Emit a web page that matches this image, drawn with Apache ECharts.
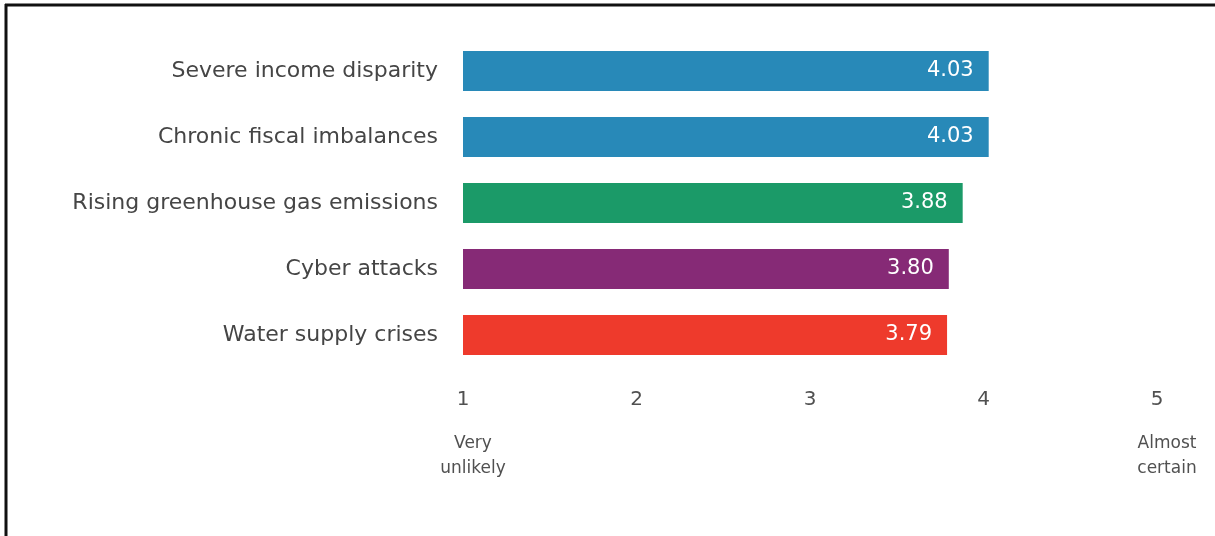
<!DOCTYPE html>
<html>
<head>
<meta charset="utf-8">
<script src="https://cdn.jsdelivr.net/npm/echarts@6/dist/echarts.min.js"></script>
<style>
  html, body { margin: 0; padding: 0; background: #ffffff; }
  #chart { width: 1215px; height: 536px; }
</style>
</head>
<body>
<div id="chart"></div>
<script>
const categories = [
  'Severe income disparity',
  'Chronic fiscal imbalances',
  'Rising greenhouse gas emissions',
  'Cyber attacks',
  'Water supply crises'
];
const values = [4.03, 4.03, 3.88, 3.80, 3.79];
const barColors = ['#2889b8', '#2889b8', '#1b9a68', '#862a76', '#ee3a2c'];
const tickValues = [1, 2, 3, 4, 5];
const scaleEndLabels = { 1: 'Very\nunlikely', 5: 'Almost\ncertain' };

const chart = echarts.init(document.getElementById('chart'), null, { renderer: 'canvas' });
const FONT = '"DejaVu Sans", "Liberation Sans", Arial, sans-serif';

chart.setOption({
  backgroundColor: '#ffffff',
  animation: false,
  grid: { left: 463, right: 58, top: 38, bottom: 168, containLabel: false },
  xAxis: [
    {
      type: 'value',
      min: tickValues[0],
      max: tickValues[tickValues.length - 1],
      interval: 1,
      position: 'bottom',
      axisLine: { show: false },
      axisTick: { show: false },
      splitLine: { show: false },
      axisLabel: {
        margin: 22,
        color: '#505050',
        fontSize: 20,
        fontFamily: FONT,
        formatter: v => String(v)
      }
    },
    {
      type: 'value',
      min: tickValues[0],
      max: tickValues[tickValues.length - 1],
      interval: 1,
      position: 'bottom',
      axisLine: { show: false },
      axisTick: { show: false },
      splitLine: { show: false },
      axisLabel: {
        margin: 63,
        color: '#505050',
        fontSize: 17,
        lineHeight: 25,
        fontFamily: FONT,
        padding: [0, 0, 0, 20],
        formatter: v => scaleEndLabels[v] || ''
      }
    }
  ],
  yAxis: {
    type: 'category',
    data: categories,
    inverse: true,
    axisLine: { show: false },
    axisTick: { show: false },
    splitLine: { show: false },
    axisLabel: {
      margin: 25,
      color: '#454545',
      fontSize: 22,
      fontFamily: FONT
    }
  },
  series: [{
    type: 'bar',
    xAxisIndex: 0,
    barWidth: 40,
    data: values.map((v, i) => ({ value: v, itemStyle: { color: barColors[i] } })),
    label: {
      show: true,
      position: 'insideRight',
      distance: 15,
      color: '#ffffff',
      fontSize: 21,
      fontFamily: FONT,
      formatter: p => p.value.toFixed(2)
    }
  }],
  graphic: [
    { type: 'line', shape: { x1: 5, y1: 5, x2: 1215, y2: 5 }, style: { stroke: '#111111', lineWidth: 3 } },
    { type: 'line', shape: { x1: 6, y1: 4, x2: 6, y2: 536 }, style: { stroke: '#111111', lineWidth: 3 } }
  ]
});
</script>
</body>
</html>
